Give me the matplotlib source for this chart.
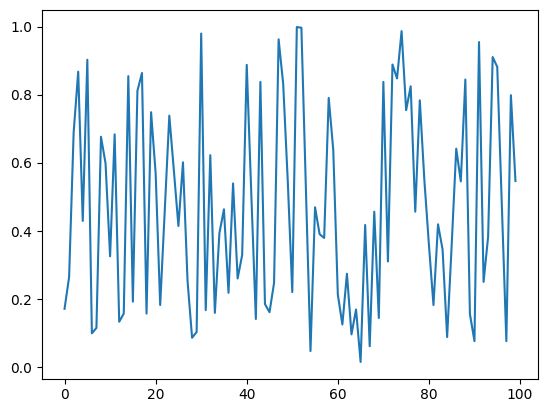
import matplotlib
matplotlib.use("Agg")
import matplotlib.pyplot as plt

# values, one per x position 0..99
x_values = list(range(100))
y_values = [
    0.172, 0.265, 0.690, 0.868, 0.430, 0.903, 0.100, 0.116, 0.677, 0.599,
    0.326, 0.684, 0.134, 0.158, 0.855, 0.193, 0.812, 0.864, 0.158, 0.749,
    0.570, 0.183, 0.460, 0.739, 0.578, 0.415, 0.602, 0.255, 0.087, 0.104,
    0.980, 0.168, 0.623, 0.160, 0.394, 0.464, 0.219, 0.540, 0.261, 0.330,
    0.888, 0.510, 0.142, 0.838, 0.186, 0.162, 0.248, 0.963, 0.833, 0.550,
    0.221, 0.999, 0.997, 0.520, 0.048, 0.470, 0.391, 0.380, 0.791, 0.638,
    0.214, 0.126, 0.275, 0.097, 0.170, 0.016, 0.418, 0.062, 0.457, 0.145,
    0.838, 0.311, 0.889, 0.848, 0.987, 0.755, 0.825, 0.457, 0.784, 0.550,
    0.360, 0.183, 0.420, 0.346, 0.089, 0.360, 0.642, 0.546, 0.845, 0.157,
    0.077, 0.955, 0.251, 0.384, 0.911, 0.882, 0.480, 0.077, 0.799, 0.547,
]

fig = plt.figure(figsize=(5.47, 4.13), dpi=100)
# axes box placed where the reference has it (pixels in a 547x413 image)
ax = fig.add_axes([42 / 547, (413 - 378.7) / 413, 496 / 547, 368.4 / 413])
ax.plot(x_values, y_values, color="#1f77b4")

fig.savefig("out.png", dpi=100)
